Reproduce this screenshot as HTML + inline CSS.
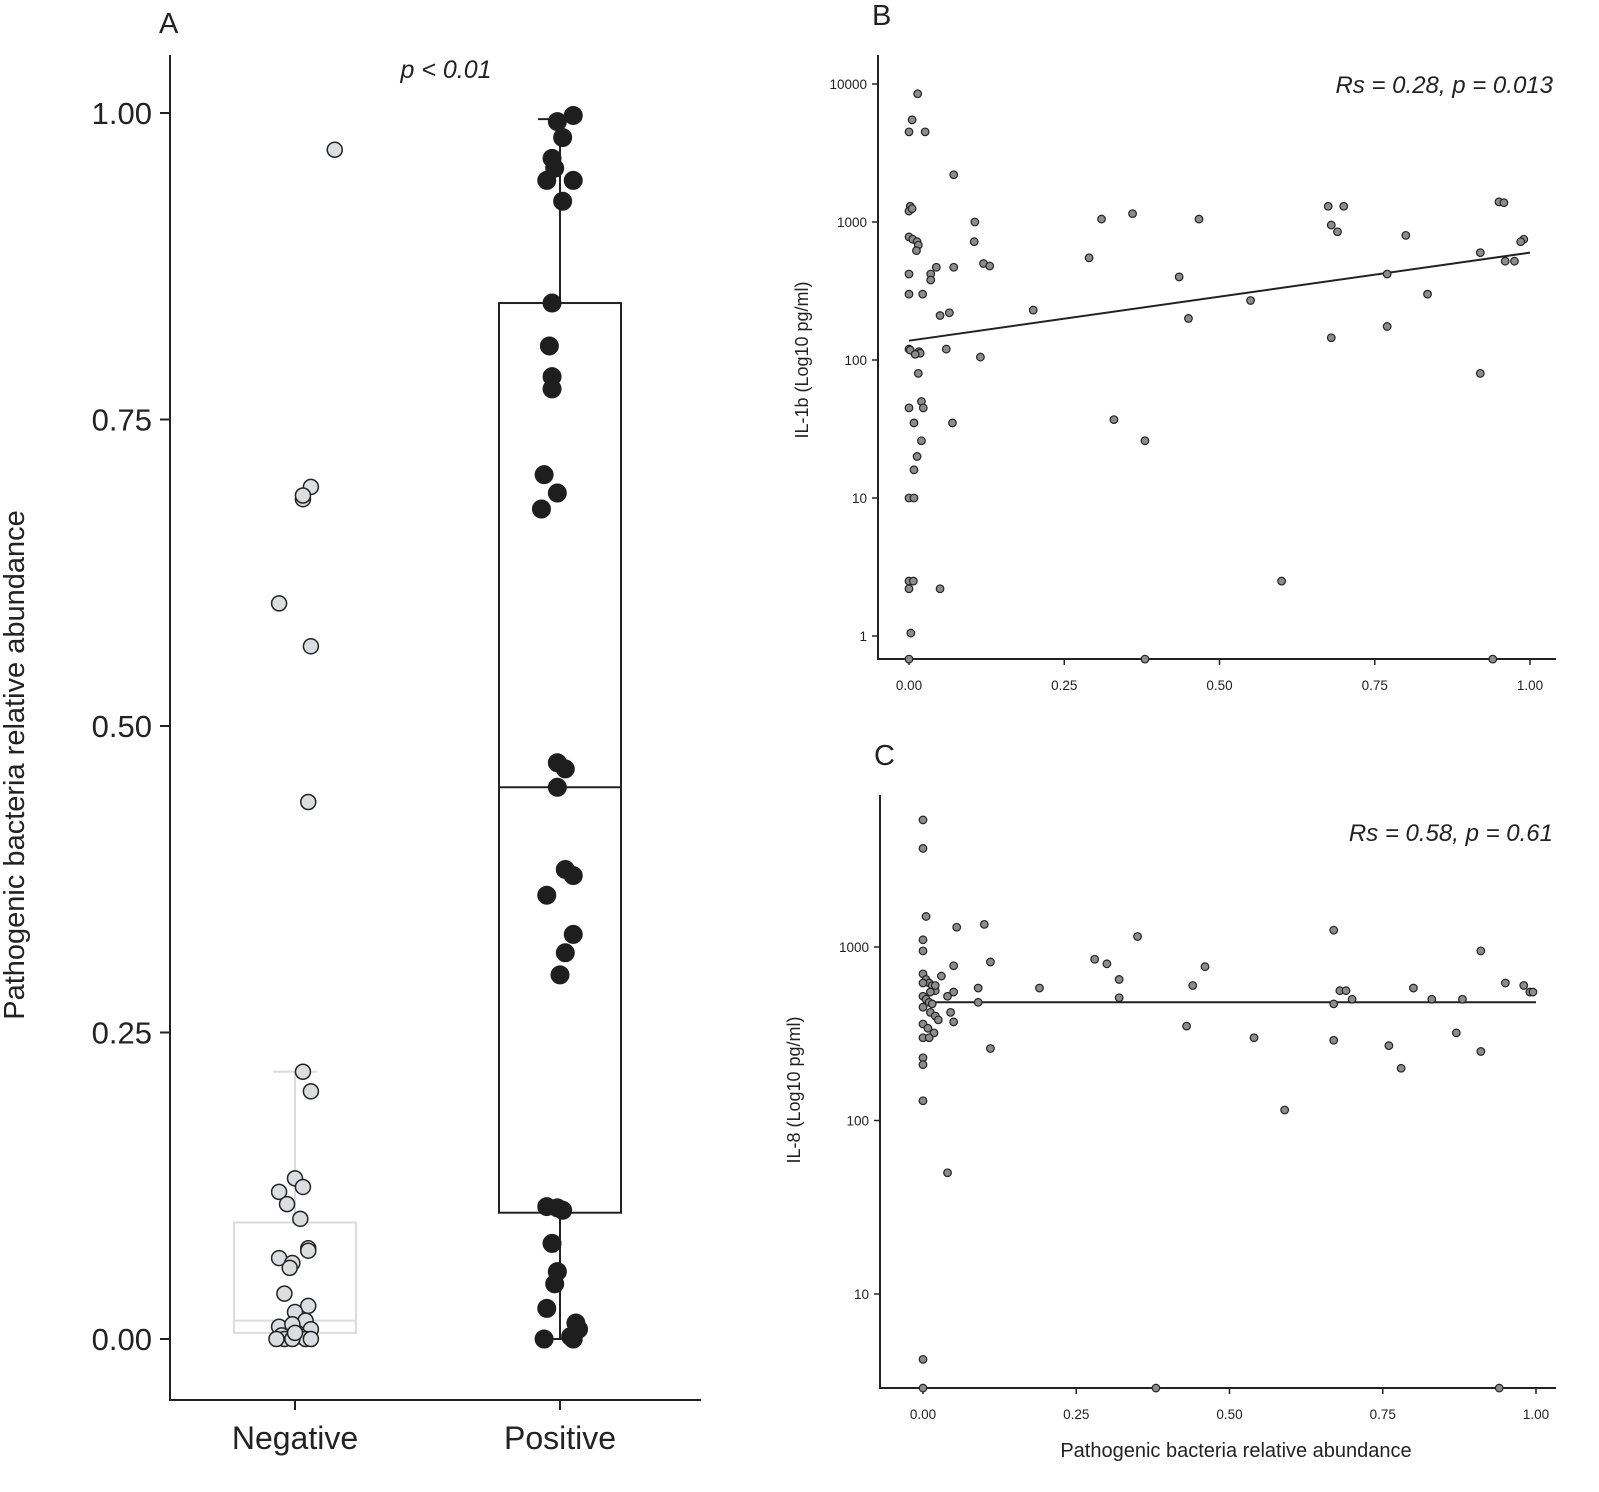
<!DOCTYPE html>
<html><head><meta charset="utf-8"><style>
html,body{margin:0;padding:0;background:#fff;}
svg{display:block;font-family:"Liberation Sans",Arial,sans-serif;}
</style></head><body>
<svg id="fig" width="1599" height="1492" viewBox="0 0 1599 1492"></svg>
<script>
// ---------- Panel A data ----------
const catsA = ["Negative","Positive"];
const negVals = [0.97,0.695,0.685,0.688,0.60,0.565,0.438,0.218,0.202,0.131,0.124,0.12,0.11,0.098,0.074,0.072,0.066,0.062,0.058,0.037,0.027,0.022,0.01,0.015,0.012,0.008,0.003,0.002,0.0,0.0,0.0,0.0,0.0,0.005];
const negJit = [0.15,0.06,0.03,0.03,-0.06,0.06,0.05,0.03,0.06,0.0,0.03,-0.06,-0.03,0.02,0.05,0.05,-0.06,-0.01,-0.02,-0.04,0.05,0.0,-0.06,0.04,-0.01,0.06,-0.05,0.02,-0.04,0.04,-0.07,-0.01,0.06,0.0];
const posVals = [0.998,0.993,0.98,0.963,0.955,0.945,0.945,0.928,0.845,0.81,0.785,0.775,0.705,0.69,0.677,0.47,0.465,0.45,0.383,0.378,0.362,0.33,0.315,0.297,0.108,0.107,0.105,0.078,0.055,0.045,0.025,0.013,0.008,0.0,0.0,0.002];
const posJit = [0.05,-0.01,0.01,-0.03,-0.02,-0.05,0.05,0.01,-0.03,-0.04,-0.03,-0.03,-0.06,-0.01,-0.07,-0.01,0.02,-0.01,0.02,0.05,-0.05,0.05,0.02,0.0,-0.05,-0.01,0.01,-0.03,-0.01,-0.02,-0.05,0.06,0.07,-0.06,0.05,0.04];
const negBox = [0.005,0.015,0.095,0.0,0.218];
const posBox = [0.103,0.45,0.845,0.0,0.995];
const ticksA = [0,0.25,0.5,0.75,1];
const tickLabA = ["0.00","0.25","0.50","0.75","1.00"];

// ---------- Panel B data ----------
const bX = [0.014,0.005,0,0.026,0.072,0.002,0,0.005,0.106,0.31,0.36,0.467,0.675,0.70,0.95,0.958,0.68,0.69,0.80,0.99,0.985,0,0.006,0.013,0.015,0.012,0.105,0.29,0.92,0.96,0.975,0.072,0.12,0.13,0.044,0.035,0,0.435,0.77,0.035,0,0.022,0.835,0.2,0.05,0.065,0.55,0.45,0.77,0.68,0,0.002,0.016,0.018,0.01,0.06,0.115,0.015,0.92,0,0.02,0.023,0.008,0.07,0.33,0.38,0.02,0.013,0.008,0,0.008,0,0.007,0,0.05,0.6,0.003,0,0.38,0.94];
const bY = [8500,5500,4500,4500,2200,1300,1200,1250,1000,1050,1150,1050,1300,1300,1400,1380,950,850,800,750,720,780,750,720,680,620,720,550,600,520,520,470,500,480,470,420,420,400,420,380,300,300,300,230,210,220,270,200,175,145,120,118,115,112,110,120,105,80,80,45,50,45,35,35,37,26,26,20,16,10,10,2.5,2.5,2.2,2.2,2.5,1.05,0.68,0.68,0.68];
const bFit = [138,600];
const bTicks = [1,10,100,1000,10000];
const xTicks = [0,0.25,0.5,0.75,1];
const xTickLab = ["0.00","0.25","0.50","0.75","1.00"];

// ---------- Panel C data ----------
const cX = [0.0,0.0,0.005,0.055,0.1,0.35,0.67,0.0,0.0,0.91,0.11,0.28,0.30,0.46,0.32,0.05,0.19,0.44,0.80,0.68,0.69,0.95,0.98,0.99,0.995,0.32,0.70,0.83,0.88,0.09,0.09,0.67,0.04,0.05,0.045,0.05,0.43,0.54,0.67,0.87,0.76,0.91,0.78,0.11,0.0,0.0,0.0,0.59,0.04,0.0,0.0,0.38,0.94,
  0.0,0.005,0.01,0.015,0.02,0.0,0.005,0.01,0.015,0.0,0.012,0.02,0.025,0.0,0.008,0.018,0.0,0.01,0.02,0.03,0.0,0.012];
const cY = [5400,3700,1500,1300,1350,1150,1250,1100,950,950,820,850,800,770,650,780,580,600,580,560,560,620,600,550,550,510,500,500,500,480,580,470,520,550,420,370,350,300,290,320,270,250,200,260,230,210,130,115,50,4.2,2.87,2.87,2.87,
  700,650,620,600,560,520,500,480,470,450,420,400,380,360,340,320,300,300,600,680,620,550];
const cFit = [480,480];
const cTicks = [10,100,1000];

const NS="http://www.w3.org/2000/svg";
const svg=document.getElementById('fig');
function mk(tag,attrs,parent){const e=document.createElementNS(NS,tag);for(const k in attrs)e.setAttribute(k,attrs[k]);(parent||svg).appendChild(e);return e;}
function txt(s,attrs,parent){const e=mk('text',attrs,parent);e.textContent=s;return e;}

// ===== Panel A =====
const gA=mk('g',{});


const yA=v=>1339-v*1226;
const xA=c=>[295,560][c];
const pxPerCat=265;
let l=mk('line',{x1:170,y1:55,x2:170,y2:1401,stroke:'#222','stroke-width':2},gA);

l=mk('line',{x1:169,y1:1400,x2:701,y2:1400,stroke:'#222','stroke-width':2},gA);

ticksA.forEach((t,i)=>{
  mk('line',{x1:160,y1:yA(t),x2:170,y2:yA(t),stroke:'#222','stroke-width':2},gA);
  const e=txt(tickLabA[i],{x:152,y:yA(t)+11,'text-anchor':'end','font-size':31,fill:'#222'},gA);
  
});
catsA.forEach((c,i)=>{
  mk('line',{x1:xA(i),y1:1400,x2:xA(i),y2:1410,stroke:'#222','stroke-width':2},gA);
  const e=txt(c,{x:xA(i),y:1449,'text-anchor':'middle','font-size':32,fill:'#222'},gA);
  
});
let e=txt('Pathogenic bacteria relative abundance',{x:0,y:0,'text-anchor':'middle','font-size':29,fill:'#222',transform:'translate(24,765) rotate(-90)'},gA);

e=txt('A',{x:159,y:33,'font-size':29,fill:'#222'},gA);

e=txt('p < 0.01',{x:446,y:78,'text-anchor':'middle','font-size':25,'font-style':'italic',fill:'#222'},gA);


function box(ci,b,col,name){
  const g=mk('g',{},gA);
  
  const cx=xA(ci),hw=61,cw=22;
  mk('line',{x1:cx,y1:yA(b[2]),x2:cx,y2:yA(b[4]),stroke:col,'stroke-width':2},g);
  mk('line',{x1:cx,y1:yA(b[0]),x2:cx,y2:yA(b[3]),stroke:col,'stroke-width':2},g);
  mk('line',{x1:cx-cw,y1:yA(b[4]),x2:cx+cw,y2:yA(b[4]),stroke:col,'stroke-width':2},g);
  mk('line',{x1:cx-cw,y1:yA(b[3]),x2:cx+cw,y2:yA(b[3]),stroke:col,'stroke-width':2},g);
  mk('rect',{x:cx-hw,y:yA(b[2]),width:2*hw,height:yA(b[0])-yA(b[2]),fill:'#fff',stroke:col,'stroke-width':2},g);
  mk('line',{x1:cx-hw,y1:yA(b[1]),x2:cx+hw,y2:yA(b[1]),stroke:col,'stroke-width':2},g);
}
box(0,negBox,'#dcdcdc','box-negative');
box(1,posBox,'#222','box-positive');
negVals.forEach((v,i)=>{
  const c=mk('circle',{cx:xA(0)+negJit[i]*pxPerCat,cy:yA(v),r:7.5,fill:'#dcdde0',stroke:'#222','stroke-width':1.5},gA);
  
});
posVals.forEach((v,i)=>{
  const c=mk('circle',{cx:xA(1)+posJit[i]*pxPerCat,cy:yA(v),r:9,fill:'#1e1e1e',stroke:'#1e1e1e','stroke-width':1},gA);
  
});

// ===== Scatter panels =====
function scatter(o){
  const g=mk('g',{});
  
  const xs=v=>o.x0+v*o.xw;
  const ys=v=>o.y1-(Math.log10(v)-o.l1)*o.dec;
  let a=mk('line',{x1:o.ax,y1:o.top,x2:o.ax,y2:o.bot+1,stroke:'#222','stroke-width':2},g);
  
  a=mk('line',{x1:o.ax-1,y1:o.bot,x2:o.right,y2:o.bot,stroke:'#222','stroke-width':2},g);
  
  o.yt.forEach(t=>{
    mk('line',{x1:o.ax-6,y1:ys(t),x2:o.ax,y2:ys(t),stroke:'#222','stroke-width':1.5},g);
    const e=txt(String(t),{x:o.ax-11,y:ys(t)+5,'text-anchor':'end','font-size':13.5,fill:'#222'},g);
    
  });
  xTicks.forEach((t,i)=>{
    mk('line',{x1:xs(t),y1:o.bot,x2:xs(t),y2:o.bot+6,stroke:'#222','stroke-width':1.5},g);
    const e=txt(xTickLab[i],{x:xs(t),y:o.bot+31,'text-anchor':'middle','font-size':13.5,fill:'#222'},g);
    
  });
  let e=txt(o.ylab,{x:0,y:0,'text-anchor':'middle','font-size':18,fill:'#222',transform:`translate(${o.ylx},${o.yly}) rotate(-90)`},g);
  
  e=txt(o.letter,{x:o.ax-6,y:o.top-30,'font-size':29,fill:'#222'},g);
  
  e=txt(o.stat,{x:1553,y:o.sty,'text-anchor':'end','font-size':24,'font-style':'italic',fill:'#222'},g);
  
  const fl=mk('line',{x1:xs(0),y1:ys(o.fit[0]),x2:xs(1),y2:ys(o.fit[1]),stroke:'#222','stroke-width':2},g);
  
  o.X.forEach((v,i)=>{
    const c=mk('circle',{cx:xs(v),cy:ys(o.Y[i]),r:3.8,fill:'#8c8c8c',stroke:'#222','stroke-width':1.2},g);
    
  });
  return g;
}
scatter({name:'panel-b',X:bX,Y:bY,fit:bFit,yt:bTicks,x0:909,xw:621,y1:636,l1:0,dec:138,ax:878,top:55,bot:659,right:1556,
  ylab:'IL-1b (Log10 pg/ml)',ylx:808,yly:360,letter:'B',stat:'Rs = 0.28, p = 0.013',sty:93});
scatter({name:'panel-c',X:cX,Y:cY,fit:cFit,yt:cTicks,x0:923,xw:613,y1:1294,l1:1,dec:173.5,ax:880,top:795,bot:1388,right:1556,
  ylab:'IL-8 (Log10 pg/ml)',ylx:800,yly:1090,letter:'C',stat:'Rs = 0.58, p = 0.61',sty:841});
e=txt('Pathogenic bacteria relative abundance',{x:1236,y:1457,'text-anchor':'middle','font-size':20,fill:'#222'});

</script>
</body></html>
